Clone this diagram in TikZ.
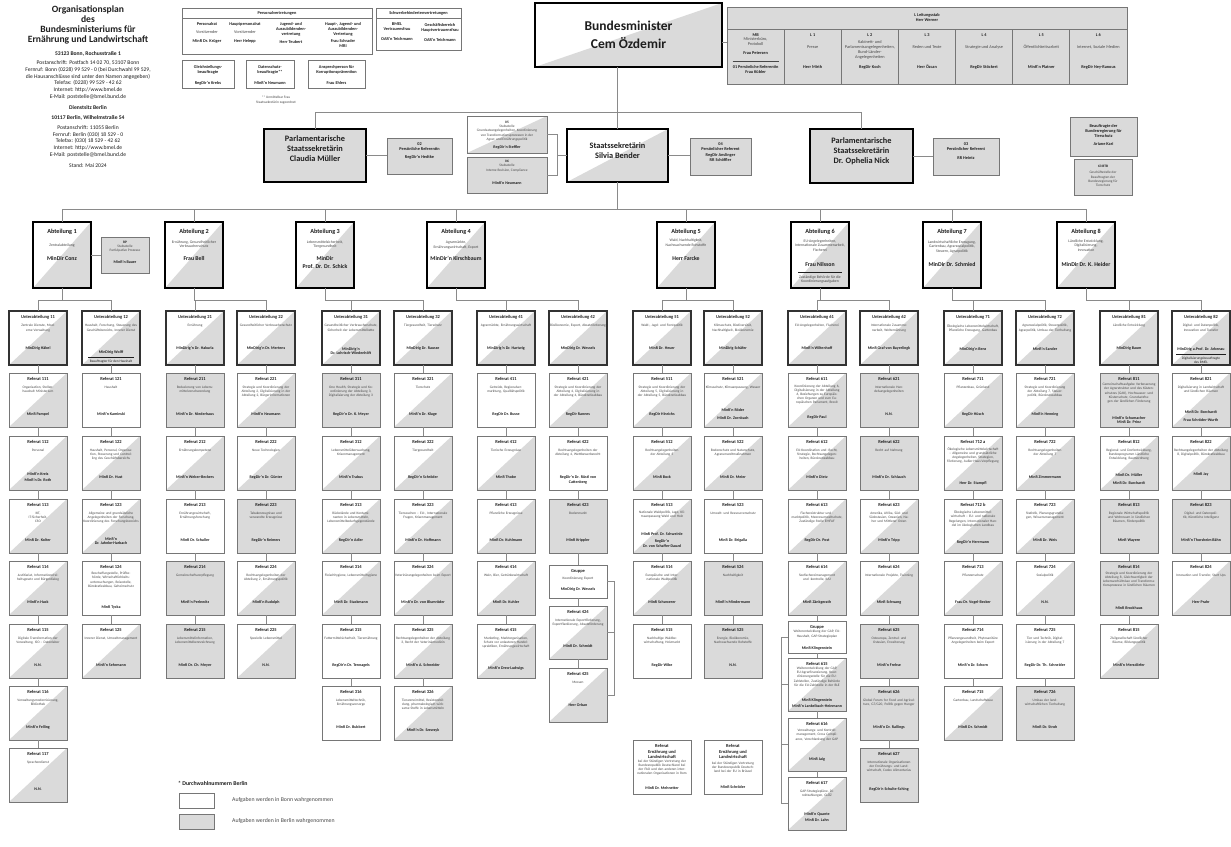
\documentclass[tikz,border=0pt]{standalone}
\usepackage{fontspec}
\setmainfont{Carlito}
\definecolor{lg}{HTML}{DADADA}
\definecolor{bc}{HTML}{767676}
\definecolor{lc}{HTML}{8A8A8A}
\definecolor{dk}{HTML}{333333}
\definecolor{tx}{HTML}{1E1E1E}
\definecolor{td}{HTML}{484848}
\newcommand\ftitle{\fontsize{4.5}{5.3}\selectfont\bfseries}
\newcommand\fdesc{\fontsize{3.5}{4.2}\selectfont}
\newcommand\fpers{\fontsize{4}{4.7}\selectfont\bfseries}
\newcommand\fsm{\fontsize{4.3}{5}\selectfont}
\newcommand\fsmb{\fontsize{4.3}{5}\selectfont\bfseries}
\newcommand\fabt{\fontsize{6.2}{7.4}\selectfont\bfseries}
\newcommand\fabd{\fontsize{3.8}{4.4}\selectfont}
\newcommand\fabn{\fontsize{5.8}{7.2}\selectfont\bfseries}
\newcommand\fpst{\fontsize{8.3}{10}\selectfont\bfseries}
\newcommand\fmin{\fontsize{13.5}{18.5}\selectfont\bfseries}
\newcommand\fhd{\fontsize{9.6}{10}\selectfont\bfseries}
\newcommand\fad{\fontsize{5.6}{6.7}\selectfont}
\newcommand\flg{\fontsize{5.8}{7}\selectfont}
\tikzset{
  diag/.style={fill=white,path picture={\fill[lg] (path picture bounding box.south west) -- (path picture bounding box.south east) -- (path picture bounding box.north east) -- cycle;}},
  gf/.style={fill=lg},
  wf/.style={fill=white},
  rb/.style={draw=bc,line width=0.9pt,minimum width=58pt,minimum height=54pt,anchor=north west,inner sep=0pt,outer sep=0pt},
  ub/.style={draw=dk,line width=1.8pt},
  rbt/.style={anchor=north,font=\ftitle,text=tx,align=center,inner sep=0pt},
  rbd/.style={anchor=north,font=\fdesc,text=td,text width=56pt,align=center,inner sep=0pt},
  rbp/.style={anchor=center,font=\fpers,text=tx,align=center,inner sep=0pt},
  conn/.style={draw=lc,line width=0.8pt},
  tb/.style={draw=bc,line width=0.9pt,anchor=north west,inner sep=0pt,outer sep=0pt},
  tt/.style={font=\fsm,text=td,align=center,inner sep=0pt},
  ttb/.style={font=\fsmb,text=tx,align=center,inner sep=0pt},
  tds/.style={font=\fdesc,text=td,align=center,inner sep=0pt},
  tx0/.style={text=tx,align=center,inner sep=0pt},
  abt/.style={draw=black,line width=2.2pt,diag,minimum width=58pt,minimum height=66pt,inner sep=0pt,outer sep=0pt},
  pst/.style={draw=black,line width=2.2pt,anchor=north west,inner sep=0pt,outer sep=0pt},
}
\newcommand\RBy[9]{%
  \node[rb,#4] (#1) at (#2,#3) {};
  \node[rbt] (#1-t) at ([yshift=-4.5pt]#1.north) {#5};
  \node[rbd] (#1-d) at ([yshift=-#9pt]#1-t.south) {#6};
  \node[rbp] (#1-p) at ([yshift=#8pt]#1.south) {#7};}
\newcommand\RB[7]{\RBy{#1}{#2}{#3}{#4}{#5}{#6}{#7}{13}{4.5}}
\newcommand\RBx[8]{\RBy{#1}{#2}{#3}{#4}{#5}{#6}{#7}{#8}{4.5}}
\newcommand\chain[2]{\foreach \cB [remember=\cB as \cA (initially #1)] in {#2} {\draw[conn] (\cA) -- (\cB);}}
\newcommand\AB[7]{%
  \node[abt] (#1) at (#2,255) {};
  \node[tx0,font=\fabt] (#1-t) at (#2,232) {Abteilung #3};
  \node[tx0,anchor=north,font=\fabd,text=td] (#1-d) at (#2,#5) {#4};
  \node[tx0,font=\fabn] (#1-p) at (#2,#7) {#6};}
\begin{document}
\begin{tikzpicture}[x=1pt,y=-1pt]
\useasboundingbox (0,0) rectangle (1231,846);
\fill[white] (0,0) rectangle (1231,846);

% ---------- header text ----------
\node[tx0,font=\fhd] (h-title) at (88,25) {Organisationsplan\\des\\Bundesministeriums für\\Ernährung und Landwirtschaft};
\node[tx0,font=\fad\bfseries] (h-bonn) at (88,53.5) {53123 Bonn, Rochusstraße 1};
\node[tx0,font=\fad] (h-post) at (88,80) {Postanschrift: Postfach 14 02 70, 53107 Bonn\\Fernruf: Bonn (0228) 99 529 - 0 (bei Durchwahl 99 529,\\die Hausanschlüsse sind unter den Namen angegeben)\\Telefax: (0228) 99 529 - 42 62\\Internet: http://www.bmel.de\\E-Mail: poststelle@bmel.bund.de};
\node[tx0,font=\fad\bfseries] (h-dienst) at (88,107.5) {Dienstsitz Berlin};
\node[tx0,font=\fad\bfseries] (h-berlin) at (88,117.5) {10117 Berlin, Wilhelmstraße 54};
\node[tx0,font=\fad] (h-bpost) at (88,141.5) {Postanschrift: 11055 Berlin\\Fernruf: Berlin (030) 18 529 - 0\\Telefax: (030) 18 529 - 42 62\\Internet: http://www.bmel.de\\E-Mail: poststelle@bmel.bund.de};
\node[tx0,font=\fad] (h-stand) at (88,166) {Stand: Mai 2024};

% ---------- Personalvertretungen ----------
\node[tb,wf,minimum width=190pt,minimum height=10pt] (pvh) at (182,8) {};
\node[ttb] (pvh-t) at (pvh.center) {Personalvertretungen};
\node[tb,wf,minimum width=190pt,minimum height=36pt] (pvb) at (182,18) {};
\node[tt,anchor=north] (pv1) at (207,22) {{\bfseries\color{tx}Personalrat}\\[3pt]Vorsitzender\\[4.5pt]{\bfseries\color{tx}MinR Dr. Krüger}};
\node[tt,anchor=north] (pv2) at (245,22) {{\bfseries\color{tx}Hauptpersonalrat}\\[3pt]Vorsitzender\\[4.5pt]{\bfseries\color{tx}Herr Helepp}};
\node[ttb,anchor=north] (pv3) at (291,22) {Jugend- und\\Auszubildenden-\\vertretung\\[3pt]Herr Teubert};
\node[ttb,anchor=north] (pv4) at (343,22) {Haupt-, Jugend- und\\Auszubildenden-\\Vertretung\\[2pt]Frau Schrader\\MRI};
\node[tb,wf,minimum width=52pt,minimum height=28pt] (gb1) at (182,60) {};
\node[ttb] (gb1-t) at (208,70) {Gleichstellungs-\\beauftragte};
\node[ttb] (gb1-p) at (208,83) {RegDir'n Krebs};
\node[tb,wf,minimum width=48pt,minimum height=28pt] (gb2) at (246,60) {};
\node[ttb] (gb2-t) at (270,70) {Datenschutz-\\beauftragte**};
\node[ttb] (gb2-p) at (270,83) {MinR'n Neumann};
\node[tb,wf,minimum width=57pt,minimum height=28pt] (gb3) at (308,60) {};
\node[ttb] (gb3-t) at (336.5,70) {Ansprechperson für\\Korruptionsprävention};
\node[ttb] (gb3-p) at (336.5,83) {Frau Ehlers};
\node[tds] (fn) at (276,100) {** Unmittelbar Frau\\Staatssekretärin zugeordnet};

% ---------- Schwerbehindertenvertretungen ----------
\node[tb,wf,minimum width=85pt,minimum height=10pt] (sbh) at (376,8) {};
\node[ttb] (sbh-t) at (sbh.center) {Schwerbehindertenvertretungen};
\node[tb,wf,minimum width=85pt,minimum height=32pt] (sbb) at (376,18) {};
\node[ttb,anchor=north] (sb1) at (397,23) {BMEL\\Vertrauensfrau\\[5pt]OAR'n Teichmann};
\node[ttb,anchor=north] (sb2) at (440,23) {Geschäftsbereich\\Hauptvertrauensfrau\\[5pt]OAR'n Teichmann};

% ---------- Minister ----------
\node[pst,diag,line width=2.6pt,minimum width=187pt,minimum height=64pt] (minister) at (535,3) {};
\node[tx0,font=\fmin] (minister-t) at (minister.center) {Bundesminister\\Cem Özdemir};

% ---------- Leitungsstab ----------
\node[tb,gf,minimum width=400pt,minimum height=22pt] (lst) at (727,7) {};
\node[ttb] (lst-t) at (lst.center) {L Leitungsstab\\Herr Werner};
\node[tb,gf,minimum width=57.14pt,minimum height=55pt] (lmb) at (727,29) {};
\node[tb,gf,minimum width=57.14pt,minimum height=55pt] (l1) at (784.14,29) {};
\node[tb,gf,minimum width=57.14pt,minimum height=55pt] (l2) at (841.29,29) {};
\node[tb,gf,minimum width=57.14pt,minimum height=55pt] (l3) at (898.43,29) {};
\node[tb,gf,minimum width=57.14pt,minimum height=55pt] (l4) at (955.57,29) {};
\node[tb,gf,minimum width=57.14pt,minimum height=55pt] (l5) at (1012.71,29) {};
\node[tb,gf,minimum width=57.14pt,minimum height=55pt] (l6) at (1069.86,29) {};
\node[ttb] (lmb-t) at (755.6,35) {MB};
\node[tt] (lmb-d) at (755.6,42) {Ministerbüro,\\Protokoll};
\node[ttb] (lmb-p) at (755.6,53) {Frau Petersen};
\node[tt] (lmb-r) at (755.6,61.5) {\rule{46pt}{0.6pt}};
\node[ttb] (lmb-q) at (755.6,70) {01 Persönliche Referentin\\Frau Kübler};
\node[ttb] (l1-t) at (812.7,35) {L 1};
\node[tt] (l1-d) at (812.7,47) {Presse};
\node[ttb] (l1-p) at (812.7,67) {Herr Mirth};
\node[ttb] (l2-t) at (869.9,35) {L 2};
\node[tt] (l2-d) at (869.9,50) {Kabinett- und\\Parlamentsangelegenheiten,\\Bund-Länder-\\Angelegenheiten};
\node[ttb] (l2-p) at (869.9,67) {RegDir Koch};
\node[ttb] (l3-t) at (927,35) {L 3};
\node[tt] (l3-d) at (927,47) {Reden und Texte};
\node[ttb] (l3-p) at (927,67) {Herr Özcan};
\node[ttb] (l4-t) at (984.1,35) {L 4};
\node[tt] (l4-d) at (984.1,47) {Strategie und Analyse};
\node[ttb] (l4-p) at (984.1,67) {RegDir Stöckert};
\node[ttb] (l5-t) at (1041.3,35) {L 5};
\node[tt] (l5-d) at (1041.3,47) {Öffentlichkeitsarbeit};
\node[ttb] (l5-p) at (1041.3,67) {MinR'n Platner};
\node[ttb] (l6-t) at (1098.4,35) {L 6};
\node[tt] (l6-d) at (1098.4,47) {Internet, Soziale Medien};
\node[ttb] (l6-p) at (1098.4,67) {RegDir Ney-Ranous};

% ---------- Staatssekretaere ----------
\node[pst,gf,minimum width=102pt,minimum height=53pt] (mueller) at (264,129) {};
\node[tx0,font=\fpst] (mueller-t) at (315,149) {Parlamentarische\\Staatssekretärin\\Claudia Müller};
\node[tb,gf,minimum width=65pt,minimum height=36pt] (o2) at (387,138) {};
\node[ttb] (o2-t) at (419.5,146.5) {02\\Persönliche Referentin};
\node[ttb] (o2-p) at (419.5,157.5) {RegDir'n Hedtke};
\node[tb,diag,minimum width=80pt,minimum height=37pt] (o5) at (467,116) {};
\node[tds] (o5-t) at (507,131) {{\bfseries\color{tx}05}\\Stabsstelle\\Grundsatzangelegenheiten, Koordinierung\\von Transformationsprozessen in der\\Agrar- und Ernährungspolitik};
\node[tx0,font=\fpers] (o5-p) at (507,147) {RegDir'n Steffler};
\node[tb,gf,minimum width=80pt,minimum height=36pt] (o6) at (467,157) {};
\node[tds] (o6-t) at (507,166) {{\bfseries\color{tx}06}\\Stabsstelle\\Interne Revision, Compliance};
\node[tx0,font=\fpers] (o6-p) at (507,183) {MinR'n Neumann};
\node[pst,diag,minimum width=101pt,minimum height=53pt] (bender) at (567,129) {};
\node[tx0,font=\fpst] (bender-t) at (617.5,151) {Staatssekretärin\\Silvia Bender};
\node[tb,gf,minimum width=61pt,minimum height=37pt] (o4) at (690,138) {};
\node[ttb] (o4-t) at (720.5,152) {04\\Persönlicher Referent\\[0.5pt]RegDir Anslinger\\RR Schöffler};
\node[pst,gf,minimum width=103pt,minimum height=54pt] (nick) at (810,129) {};
\node[tx0,font=\fpst] (nick-t) at (861.5,151) {Parlamentarische\\Staatssekretärin\\Dr. Ophelia Nick};
\node[tb,gf,minimum width=66pt,minimum height=37pt] (o3) at (933,138) {};
\node[ttb] (o3-t) at (966,146.5) {03\\Persönlicher Referent};
\node[ttb] (o3-p) at (966,158) {RR Heintz};
\node[tb,gf,minimum width=67pt,minimum height=39pt] (bt) at (1070,117) {};
\node[ttb] (bt-t) at (1103.5,135.5) {Beauftragte der\\Bundesregierung für\\Tierschutz\\[3pt]Ariane Kari};
\node[tb,gf,minimum width=58pt,minimum height=36pt] (btb) at (1074,159) {};
\node[tds] (btb-t) at (1103,176) {{\bfseries\color{tx}63 BTB}\\[2pt]Geschäftsstelle der\\Beauftragten der\\Bundesregierung für\\Tierschutz};

% ---------- Abteilungen ----------
\AB{abt1}{62}{1}{Zentralabteilung}{244}{MinDir Conz}{258}
\AB{abt2}{194}{2}{Ernährung, Gesundheitlicher\\Verbraucherschutz}{240.5}{Frau Bell}{258}
\AB{abt3}{325}{3}{Lebensmittelsicherheit,\\Tiergesundheit}{240.5}{MinDir\\Prof. Dr. Dr. Schick}{262.5}
\AB{abt4}{456}{4}{Agrarmärkte,\\Ernährungswirtschaft, Export}{241}{MinDir'n Kirschbaum}{258}
\AB{abt5}{686}{5}{Wald, Nachhaltigkeit,\\Nachwachsende Rohstoffe}{239}{Herr Farcke}{258}
\AB{abt6}{820}{6}{EU-Angelegenheiten,\\Internationale Zusammenarbeit,\\Fischerei}{239.5}{Frau Nilsson}{264}
\AB{abt7}{952}{7}{Landwirtschaftliche Erzeugung,\\Gartenbau, Agrarsozialpolitik,\\Steuern, Agrarpolitik}{240.5}{MinDir Dr. Schmied}{264}
\AB{abt8}{1086}{8}{Ländliche Entwicklung,\\Digitalisierung,\\Innovation}{239.5}{MinDir Dr. K. Heider}{264}
\node[tx0] (abt6-r) at (820,272.5) {\rule{44pt}{0.5pt}};
\node[tx0,font=\fabd,text=td] (abt6-n) at (820,279.5) {Zuständige Behörde für die\\Koordinierungsaufgaben};
\node[tb,gf,minimum width=48pt,minimum height=36pt] (rp) at (101,237) {};
\node[tds] (rp-t) at (125,246.5) {{\bfseries\color{tx}RP}\\Stabsstelle\\Partizipative Prozesse};
\node[tx0,font=\fpers] (rp-p) at (125,262.5) {MinR'n Bauer};

% ---------- Unterabteilungen ----------
\RBy{u11}{9}{311}{ub,diag}{Unterabteilung 11}{Zentrale Dienste, Moderne Verwaltung}{MinDirig Häbel}{17}{4.5}
\RBy{u12}{82}{311}{ub,diag}{Unterabteilung 12}{Haushalt, Forschung, Steuerung des Geschäftsbereichs, Innerer Dienst}{MinDirig Wolff\\[-1.5pt]\rule{46pt}{0.5pt}\\[0.5pt]{\fdesc\mdseries Beauftragter für den Haushalt}}{8}{4.5}
\RBy{u21}{166}{311}{ub,diag}{Unterabteilung 21}{Ernährung}{MinDirig'n Dr. Hakurla}{17}{4.5}
\RBy{u22}{237}{311}{ub,diag}{Unterabteilung 22}{Gesundheitlicher Verbraucherschutz}{MinDirig'n Dr. Mertens}{17}{4.5}
\RBy{u31}{322}{311}{ub,diag}{Unterabteilung 31}{Gesundheitlicher Verbraucherschutz, Sicherheit der Lebensmittelkette}{MinDirig'n\\Dr. Lohrisch-Wiedenhöft}{14}{4.5}
\RBy{u32}{394}{311}{ub,diag}{Unterabteilung 32}{Tiergesundheit, Tierschutz}{MinDirig Dr. Rausse}{17}{4.5}
\RBy{u41}{477}{311}{ub,diag}{Unterabteilung 41}{Agrarmärkte, Ernährungswirtschaft}{MinDirig'n Dr. Hartwig}{17}{4.5}
\RBy{u42}{549}{311}{ub,diag}{Unterabteilung 42}{Bioökonomie, Export, Absatzförderung}{MinDirig Dr. Wessels}{17}{4.5}
\RBy{u51}{633}{311}{ub,diag}{Unterabteilung 51}{Wald-, Jagd- und Forstpolitik}{MinR Dr. Heuer}{17}{4.5}
\RBy{u52}{704}{311}{ub,diag}{Unterabteilung 52}{Klimaschutz, Biodiversität, Nachhaltigkeit, Bioökonomie}{MinDirig Schäfer}{17}{4.5}
\RBy{u61}{788}{311}{ub,diag}{Unterabteilung 61}{EU-Angelegenheiten, Fischerei}{MinR'n Wiltenhoff}{17}{4.5}
\RBy{u62}{860}{311}{ub,diag}{Unterabteilung 62}{Internationale Zusammenarbeit, Welternährung}{MinR Graf von Bayerlingk}{17}{4.5}
\RBy{u71}{944}{311}{ub,diag}{Unterabteilung 71}{Ökologische Lebensmittelwirtschaft, Pflanzliche Erzeugung, Gartenbau}{MinDirig'n Benz}{16}{4.5}
\RBy{u72}{1016}{311}{ub,diag}{Unterabteilung 72}{Agrarsozialpolitik, Steuerpolitik, Agrarpolitik, Umbau der Tierhaltung}{MinR'n Sander}{16}{4.5}
\RBy{u81}{1100}{311}{ub,diag}{Unterabteilung 81}{Ländliche Entwicklung}{MinDirig Baum}{17}{4.5}
\RBy{u82}{1172}{311}{ub,diag}{Unterabteilung 82}{Digital- und Datenpolitik, Innovation und Transfer}{MinDirig a.Prof. Dr. Arkenau\\[-1.5pt]\rule{50pt}{0.5pt}\\[0.5pt]{\fdesc\mdseries Digitalisierungsbeauftragte}\\{\fdesc\mdseries des BMEL}}{9}{4.5}

% ---------- Referate ----------
\RB{r111}{9}{373}{diag}{Referat 111}{Organisation, Stellenhaushalt Ministerium}{MinR Pampel}
\RB{r112}{9}{436}{diag}{Referat 112}{Personal}{MinR'n Kreis\\[2pt]MinR'n Dr. Roth}
\RB{r113}{9}{499}{diag}{Referat 113}{IKT,\\IT-Sicherheit,\\CSO}{MinR Dr. Kolter}
\RB{r114}{9}{561}{diag}{Referat 114}{Justitiariat, Informationsfreiheitsgesetz und Bürgerdialog}{MinR'n Huck}
\RB{r115}{9}{624}{diag}{Referat 115}{Digitale Transformation der Verwaltung, ISO -- Datenlabor}{N.N.}
\RB{r116}{9}{686}{diag}{Referat 116}{Verwaltungsmodernisierung, Bibliothek}{MinR'n Felling}
\RB{r117}{9}{748}{diag}{Referat 117}{Sprachendienst}{N.N.}

\RB{r121}{82}{373}{wf}{Referat 121}{Haushalt}{MinR'n Kaminski}
\RB{r122}{82}{436}{diag}{Referat 122}{Haushalt, Personal, Organisation, Steuerung und Controlling des Geschäftsbereichs}{MinR Dr. Hust}
\RBx{r123}{82}{499}{diag}{Referat 123}{Allgemeine und grundsätzliche Angelegenheiten der Forschung, Koordinierung des Forschungsbereichs}{MinR'n\\Dr. Jahnke-Harbach}{12}
\RBy{r124}{82}{561}{wf}{Referat 124}{Beschaffungsstelle, Prüfbehörde, Wirtschaftlichkeits\-untersuchungen, Reisestelle, Bürokratieabbau, Geheimschutz}{MinR Tycka}{8}{3}
\RB{r125}{82}{624}{diag}{Referat 125}{Innerer Dienst, Umweltmanagement}{MinR'n Sehrmann}

\RB{r211}{166}{373}{gf}{Referat 211}{Reduzierung von Lebensmittelverschwendung}{MinR'n Dr. Niederhaus}
\RB{r212}{166}{436}{diag}{Referat 212}{Ernährungskompetenz}{MinR'n Weber-Beckers}
\RB{r213}{166}{499}{wf}{Referat 213}{Ernährungswirtschaft, Ernährungsforschung}{MinR Dr. Schuller}
\RB{r214}{166}{561}{gf}{Referat 214}{Gemeinschaftsverpflegung}{MinR'n Perlewitz}
\RB{r215}{166}{624}{gf}{Referat 215}{Lebensmittelinformation, Lebensmittelkennzeichnung}{MinR Dr. Ch. Meyer}

\RB{r221}{237}{373}{diag}{Referat 221}{Strategie und Koordinierung der Abteilung 2, Digitalisierung in der Abteilung 2, Bürgerinformationen}{MinR'n Neumann}
\RB{r222}{237}{436}{diag}{Referat 222}{Neue Technologien}{RegDir'n Dr. Günter}
\RB{r223}{237}{499}{gf}{Referat 223}{Tabakerzeugnisse und verwandte Erzeugnisse}{RegDir'n Reimers}
\RB{r224}{237}{561}{diag}{Referat 224}{Rechtsangelegenheiten der Abteilung 2, Ernährungspolitik}{MinR'n Rudolph}
\RB{r225}{237}{624}{diag}{Referat 225}{Spezielle Lebensmittel}{N.N.}

\RB{r311}{322}{373}{gf}{Referat 311}{One Health, Strategie und Koordinierung der Abteilung 3, Digitalisierung der Abteilung 3}{RegDir'n Dr. K. Meyer}
\RB{r312}{322}{436}{diag}{Referat 312}{Lebensmittelüberwachung, Krisenmanagement}{MinR'n Trabus}
\RB{r313}{322}{499}{diag}{Referat 313}{Rückstände und Kontaminanten in Lebensmitteln, Lebensmittelbedarfs\-gegenstände}{RegDir'n Adler}
\RB{r314}{322}{561}{diag}{Referat 314}{Fleischhygiene, Lebensmittelhygiene}{MinR Dr. Stackmann}
\RB{r315}{322}{624}{wf}{Referat 315}{Futtermittelsicherheit, Tierernährung}{RegDir'n Dr. Tennagels}
\RB{r316}{322}{686}{wf}{Referat 316}{Lebensmitteltechnik, Ernährungsvorsorge}{MinR Dr. Bubbert}

\RB{r321}{394}{373}{diag}{Referat 321}{Tierschutz}{MinR'n Dr. Kluge}
\RB{r322}{394}{436}{diag}{Referat 322}{Tiergesundheit}{RegDir'n Schröder}
\RB{r323}{394}{499}{diag}{Referat 323}{Tierseuchen -- EU-, Internationale Fragen, Krisenmanagement}{MinR'n Dr. Hoffmann}
\RB{r324}{394}{561}{diag}{Referat 324}{Veterinärangelegenheiten beim Export}{MinR'n Dr. von Blumröder}
\RB{r325}{394}{624}{diag}{Referat 325}{Rechtsangelegenheiten der Abteilung 3, Recht der Veterinärmedizin}{MinR'n A. Schneider}
\RBx{r326}{394}{686}{diag}{Referat 326}{Tierarzneimittel, Resistenzbildung, pharmakologisch wirksame Stoffe in Lebensmitteln}{MinR'n Dr. Szewzyk}{10}

\RB{r411}{477}{373}{wf}{Referat 411}{Getreide, Regionalvermarktung, Qualitätspolitik}{RegDir Dr. Busse}
\RB{r412}{477}{436}{diag}{Referat 412}{Tierische Erzeugnisse}{MinR Thobe}
\RB{r413}{477}{499}{diag}{Referat 413}{Pflanzliche Erzeugnisse}{MinR Dr. Kuhlmann}
\RB{r414}{477}{561}{diag}{Referat 414}{Wein, Bier, Getränkewirtschaft}{MinR Dr. Kuhler}
\RBx{r415}{477}{624}{diag}{Referat 415}{Marketing, Marktorganisation, Schutz vor unlauteren Handelspraktiken, Ernährungswirtschaft}{MinR'n Dreo-Ludwigs}{10}

\RB{r421}{549}{373}{diag}{Referat 421}{Strategie und Koordinierung der Abteilung 4, Digitalisierung in der Abteilung 4, Bürokratieabbau}{RegDir Rannes}
\RBx{r422}{549}{436}{wf}{Referat 422}{Rechtsangelegenheiten der Abteilung 4, Wettbewerbsrecht}{RegDir'n Dr. Rüstl von\\Cattenberg}{10}
\RB{r423}{549}{499}{gf}{Referat 423}{Bodenmarkt}{MinR Krippler}
\RBy{g4}{549}{565}{wf,minimum height=33pt}{Gruppe}{Koordinierung Export}{MinDirig Dr. Wessels}{9}{3.5}
\RBy{r424}{549}{606}{diag,minimum height=53pt}{Referat 424}{Internationale Exportförderung, Exportflankierung, Absatzförderung}{MinR Dr. Schmidt}{13}{4.5}
\RBy{r425}{549}{668}{diag,minimum height=54pt}{Referat 425}{Messen}{Herr Orban}{17}{4.5}

\RB{r511}{633}{373}{diag}{Referat 511}{Strategie und Koordinierung der Abteilung 5, Digitalisierung in der Abteilung 5, Bürokratieabbau}{RegDir Hinrichs}
\RB{r512}{633}{436}{diag}{Referat 512}{Rechtsangelegenheiten der Abteilung 5}{MinR Bock}
\RBy{r513}{633}{499}{diag}{Referat 513}{Nationale Waldpolitik, Jagd, Klimaanpassung Wald und Holz}{MinR Prof. Dr. Schweinle\\[2pt]RegDir'n\\Dr. von Schaffer-Dauzd}{13}{4}
\RB{r514}{633}{561}{diag}{Referat 514}{Europäische und Internationale Waldpolitik}{MinR Schwoerer}
\RB{r515}{633}{624}{wf}{Referat 515}{Nachhaltige Waldbewirtschaftung, Holzmarkt}{RegDir Wibe}

\RB{r521}{704}{373}{diag}{Referat 521}{Klimaschutz, Klimaanpassung, Wasser}{MinR'n Röder\\[3pt]MinR Dr. Zornbach}
\RB{r522}{704}{436}{diag}{Referat 522}{Bodenschutz und Naturschutz, Agrarumweltmaßnahmen}{MinR Dr. Meier}
\RB{r523}{704}{499}{wf}{Referat 523}{Umwelt- und Ressourcenschutz}{MinR Dr. Brigalla}
\RB{r524}{704}{561}{gf}{Referat 524}{Nachhaltigkeit}{MinR'n Mindermann}
\RB{r525}{704}{624}{gf}{Referat 525}{Energie, Bioökonomie, Nachwachsende Rohstoffe}{N.N.}

\RBy{r611}{788}{373}{diag}{Referat 611}{Koordinierung der Abteilung 6, Digitalisierung in der Abteilung 6, Beziehungen zu Europäischen Organen und zum Europäischen Parlament, Brexit}{RegDir Paul}{10}{3.5}
\RB{r612}{788}{436}{diag}{Referat 612}{EU-Koordination und -Recht, Strategie, Rechtsangelegenheiten, Bürokratieabbau}{MinR'n Dietz}
\RB{r613}{788}{499}{diag}{Referat 613}{Fischereistruktur und -marktpolitik, Meeresumweltschutz, Zuständige Stelle EMFAF}{RegDir Dr. Post}
\RB{r614}{788}{561}{diag}{Referat 614}{Seefischereimanagement und -kontrolle, IUU}{MinR Zänkgerath}
\RBy{g6}{788}{621}{wf,minimum height=32pt}{Gruppe}{Weiterentwicklung der GAP, EU-Haushalt, GAP-Strategieplan}{MinR Klingenstein}{5}{0.8}
\RBy{r615}{788}{658}{diag,minimum height=53pt}{Referat 615}{Weiterentwicklung der GAP, EU-Agrarfinanzierung, Koordinierungsstelle für die EU-Zahlstellen, Zuständige Behörde für die EU-Zahlstelle in der BLE}{MinR Klingenstein\\[1pt]MinR'n Lankelbach-Heinmann}{8}{0.8}
\RBy{r616}{788}{718}{diag,minimum height=53pt}{Referat 616}{Verwaltungs- und Kontrollmanagement, Cross Compliance, Verschlankung der GAP}{MinR Jaig}{12}{3}
\RBy{r617}{788}{777}{diag,minimum height=53pt}{Referat 617}{GAP-Strategiepläne, Direktzahlungen, GLÖZ}{MinR'n Quante\\[2pt]MinR Dr. Lahn}{13}{4.5}

\RB{r621}{860}{373}{gf}{Referat 621}{Internationale Handelsangelegenheiten}{N.N.}
\RB{r622}{860}{436}{gf}{Referat 622}{Recht auf Nahrung}{MinR'n Dr. Schlauch}
\RB{r623}{860}{499}{diag}{Referat 623}{Amerika, Afrika, Süd- und Südostasien, Ozeanien, Naher und Mittlerer Osten}{MinR'n Tripp}
\RB{r624}{860}{561}{diag}{Referat 624}{Internationale Projekte, Twinning}{MinR Schwang}
\RB{r625}{860}{624}{gf}{Referat 625}{Osteuropa, Zentral- und Ostasien, Erweiterung}{MinR'n Frehse}
\RB{r626}{860}{686}{gf}{Referat 626}{Global Forum for Food and Agriculture, G7/G20, Politik gegen Hunger}{MinR'n Dr. Rallings}
\RB{r627}{860}{748}{gf}{Referat 627}{Internationale Organisationen der Ernährungs- und Landwirtschaft, Codex Alimentarius}{RegDir'n Schulte-Sching}

\RB{r711}{944}{373}{diag}{Referat 711}{Pflanzenbau, Grünland}{RegDir Hüsch}
\RBy{r712a}{944}{436}{diag}{Referat 712 a}{Ökologische Lebensmittelwirtschaft -- Allgemeine und grundsätzliche Angelegenheiten, Strategien, Förderung, Außer-Haus-Verpflegung}{Herr Dr. Stampfl}{7}{3}
\RBy{r712b}{944}{499}{diag}{Referat 712 b}{Ökologische Lebensmittelwirtschaft -- EU- und nationale Regelungen, Internationaler Handel im ökologischen Landbau}{RegDir'n Herrmann}{11}{3.5}
\RB{r713}{944}{561}{diag}{Referat 713}{Pflanzenschutz}{Frau Dr. Vogel-Becker}
\RB{r714}{944}{624}{wf}{Referat 714}{Pflanzengesundheit, Phytosanitäre Angelegenheiten beim Export}{MinR'n Dr. Schorn}
\RB{r715}{944}{686}{diag}{Referat 715}{Gartenbau, Landschaftsbau}{MinR Dr. Schmidt}

\RB{r721}{1016}{373}{diag}{Referat 721}{Strategie und Koordinierung der Abteilung 7, Steuerpolitik, Bürokratieabbau}{MinR'n Henning}
\RB{r722}{1016}{436}{diag}{Referat 722}{Rechtsangelegenheiten der Abteilung 7}{MinR Zimmermann}
\RB{r723}{1016}{499}{diag}{Referat 723}{Statistik, Planungsgrundlagen, Wissensmanagement}{MinR Dr. Weis}
\RB{r724}{1016}{561}{diag}{Referat 724}{Sozialpolitik}{N.N.}
\RB{r725}{1016}{624}{wf}{Referat 725}{Tier und Technik, Digitalisierung in der Abteilung 7}{RegDir Dr. Th. Schneider}
\RB{r726}{1016}{686}{gf}{Referat 726}{Umbau der landwirtschaftlichen Tierhaltung}{MinR Dr. Stroh}

\RBy{r811}{1100}{373}{gf}{Referat 811}{Gemeinschaftsaufgabe Verbesserung der Agrarstruktur und des Küstenschutzes (GAK), Hochwasser- und Küstenschutz, Grundsatzfragen der ländlichen Förderung}{MinR'n Schumacher\\MinR Dr. Prinz}{7}{2}
\RBx{r812}{1100}{436}{diag}{Referat 812}{Regional- und Dorfentwicklung, Bundesprogramm Ländliche Entwicklung, Raumordnung}{MinR Dr. Müller\\[3pt]MinR Dr. Burchardt}{11}
\RB{r813}{1100}{499}{gf}{Referat 813}{Regionale Wirtschaftspolitik und Wohnraum in ländlichen Räumen, Förderpolitik}{MinR Wayere}
\RBy{r814}{1100}{561}{gf}{Referat 814}{Strategie und Koordinierung der Abteilung 8, Gleichwertigkeit der Lebensverhältnisse und Transformationsprozesse in ländlichen Räumen}{MinR Brockhaus}{7}{2.5}
\RB{r815}{1100}{624}{diag}{Referat 815}{Zivilgesellschaft ländlicher Räume, Bildungspolitik}{MinR'n Mersdörfer}

\RBx{r821}{1172}{373}{diag}{Referat 821}{Digitalisierung in Landwirtschaft und ländlichen Räumen}{MinR Dr. Borchardt\\[3pt]Frau Schröder-Wurth}{11}
\RBx{r822}{1172}{436}{diag}{Referat 822}{Rechtsangelegenheiten der Abteilung 8, Digitalpolitik, Bürokratieabbau}{MinR Jay}{16}
\RB{r823}{1172}{499}{gf}{Referat 823}{Digital- und Datenpolitik, Künstliche Intelligenz}{MinR'n Thorsheim Bähn}
\RB{r824}{1172}{561}{diag}{Referat 824}{Innovation und Transfer, Start Ups}{Herr Prahr}

\RBy{fao}{633}{740}{wf}{Referat\\Ernährung und\\Landwirtschaft}{bei der Ständigen Vertretung der Bundesrepublik Deutschland bei der FAO und den anderen internationalen Organisationen in Rom}{MinR Dr. Mehnetter}{6}{1}
\RBy{euv}{704}{740}{wf}{Referat\\Ernährung und\\Landwirtschaft}{bei der Ständigen Vertretung der Bundesrepublik Deutschland bei der EU in Brüssel}{MinR Schröder}{7}{3}

% ---------- legend ----------
\node[tx0,anchor=west,font=\flg\bfseries] (lg-h) at (178,783) {* Durchwahlnummern Berlin};
\node[tb,wf,minimum width=35pt,minimum height=15pt] (lg-w) at (179,793) {};
\node[tb,gf,minimum width=35pt,minimum height=15pt] (lg-g) at (179,814) {};
\node[tx0,anchor=west,font=\flg,text=td] (lg-wt) at (232,800) {Aufgaben werden in Bonn wahrgenommen};
\node[tx0,anchor=west,font=\flg,text=td] (lg-gt) at (232,821) {Aufgaben werden in Berlin wahrgenommen};

% ---------- connectors ----------
\draw[conn] ([yshift=-7pt]minister.east) -- ([yshift=-7pt]minister.east -| lmb.west);
\draw[conn] (minister.south -| bender.north) -- (bender.north);
\draw[conn] (mueller.north) -- ++(0,-17) -| (nick.north);
\draw[conn] (mueller.east) -- (mueller.east -| o2.west);
\draw[conn] (bender.east) -- (bender.east -| o4.west);
\draw[conn] (nick.east) -- (nick.east -| o3.west);
\draw[conn] (o5.east) -- ++(10,0) |- (o6.east);
\draw[conn] (bender.west) -- ++(-10,0);
\foreach \n in {1,...,8} {\draw[conn] (bender.south) -- ++(0,27) -| (abt\n.north);}
\draw[conn] (abt1.east) -- (abt1.east -| rp.west);
\foreach \d/\p/\q in {1/u11/u12,2/u21/u22,3/u31/u32,4/u41/u42,5/u51/u52,6/u61/u62,7/u71/u72,8/u81/u82} {
  \draw[conn] (abt\d.south) -- ++(0,12) -| (\p.north);
  \draw[conn] (abt\d.south) -- ++(0,12) -| (\q.north);}
\chain{u11}{r111,r112,r113,r114,r115,r116,r117}
\chain{u12}{r121,r122,r123,r124,r125}
\chain{u21}{r211,r212,r213,r214,r215}
\chain{u22}{r221,r222,r223,r224,r225}
\chain{u31}{r311,r312,r313,r314,r315,r316}
\chain{u32}{r321,r322,r323,r324,r325,r326}
\chain{u41}{r411,r412,r413,r414,r415}
\chain{u42}{r421,r422,r423,g4,r424,r425}
\chain{u51}{r511,r512,r513,r514,r515}
\chain{u52}{r521,r522,r523,r524,r525}
\chain{u61}{r611,r612,r613,r614,g6,r615,r616,r617}
\chain{u62}{r621,r622,r623,r624,r625,r626,r627}
\chain{u71}{r711,r712a,r712b,r713,r714,r715}
\chain{u72}{r721,r722,r723,r724,r725,r726}
\chain{u81}{r811,r812,r813,r814,r815}
\chain{u82}{r821,r822,r823,r824}
\draw[conn] (g4.east) -- ++(7,0) |- (r425.east);
\draw[conn] (r424.east) -- ++(7,0);
\draw[conn] (g6.west) -- ++(-7,0) |- (r617.west);
\draw[conn] (r615.west) -- ++(-7,0);
\draw[conn] (r616.west) -- ++(-7,0);
\end{tikzpicture}
\end{document}
